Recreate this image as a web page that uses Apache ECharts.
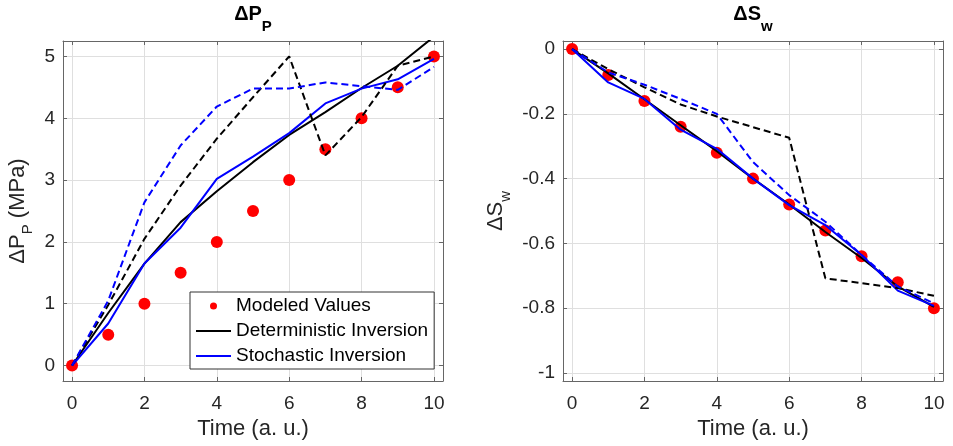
<!DOCTYPE html>
<html>
<head>
<meta charset="utf-8">
<script src="https://cdn.jsdelivr.net/npm/echarts@6/dist/echarts.min.js"></script>
<style>
html,body{margin:0;padding:0;background:#fff;}
#c{width:953px;height:446px;}
</style>
</head>
<body>
<div id="c"></div>
<script>
// ---- data ----
var times = [0, 1, 2, 3, 4, 5, 6, 7, 8, 9, 10];
var xTicks = [0, 2, 4, 6, 8, 10];
var yTicksP = [0, 1, 2, 3, 4, 5];
var yTicksS = [0, -0.2, -0.4, -0.6, -0.8, -1];

// Pressure panel
var pModeled   = [0, 0.5, 1, 1.5, 2, 2.5, 3, 3.5, 4, 4.5, 5];
var pDetSolid  = [0, 0.85, 1.65, 2.32, 2.82, 3.29, 3.73, 4.1, 4.49, 4.85, 5.32];
var pStoSolid  = [0, 0.68, 1.65, 2.23, 3.02, 3.38, 3.76, 4.24, 4.48, 4.63, 4.96];
var pDetDashed = [0, 0.98, 2.05, 2.91, 3.67, 4.34, 5.0, 3.4, 4.02, 4.85, 5.0];
var pStoDashed = [0, 1.05, 2.64, 3.56, 4.19, 4.48, 4.48, 4.58, 4.52, 4.46, 4.83];

// Saturation panel
var sModeled   = [0, -0.08, -0.16, -0.24, -0.32, -0.40, -0.48, -0.56, -0.64, -0.72, -0.80];
var sDetSolid  = [0, -0.075, -0.155, -0.235, -0.315, -0.40, -0.48, -0.565, -0.645, -0.733, -0.796];
var sStoSolid  = [0, -0.103, -0.154, -0.249, -0.308, -0.40, -0.482, -0.544, -0.636, -0.746, -0.793];
var sDetDashed = [0, -0.062, -0.118, -0.171, -0.208, -0.241, -0.274, -0.708, -0.723, -0.738, -0.762];
var sStoDashed = [0, -0.072, -0.11, -0.154, -0.20, -0.349, -0.451, -0.533, -0.636, -0.733, -0.785];

function pairs(ys){ return times.map(function(t,i){ return [t, ys[i]]; }); }

var FONT = 'Liberation Sans, Arial, Helvetica, sans-serif';
var AXC = '#666666';
var GRIDC = '#dfdfdf';
var TXT = '#262626';

function xAx(grid, pos){
  var main = pos === 'bottom';
  return {
    type:'value', gridIndex:grid, position:pos, min:-0.25, max:10.25,
    name: main ? 'Time (a. u.)' : '', nameLocation:'middle', nameGap:37,
    nameTextStyle:{fontFamily:FONT, fontSize:22, color:TXT},
    axisLine:{show:true, onZero:false, lineStyle:{color:AXC, width:1}},
    axisTick:{show:true, inside:true, length:4, customValues:xTicks, lineStyle:{color:AXC}},
    axisLabel:{show:main, customValues:xTicks, margin:13, fontFamily:FONT, fontSize:19, color:TXT},
    splitLine:{show:main, lineStyle:{color:GRIDC, width:1}}
  };
}
function yAx(grid, pos, ticks, mn, mx, name, gap){
  var main = pos === 'left';
  return {
    type:'value', gridIndex:grid, position:pos, min:mn, max:mx,
    name: main ? name : '', nameLocation:'middle', nameGap:gap, nameRotate:90,
    nameTextStyle:{fontFamily:FONT, color:TXT, rich:{
      a:{fontFamily:FONT, fontSize:22, color:TXT, lineHeight:24},
      b:{fontFamily:FONT, fontSize:15, color:TXT, padding:[19,0,0,0]}
    }},
    axisLine:{show:true, onZero:false, lineStyle:{color:AXC, width:1}},
    axisTick:{show:true, inside:true, length:4, customValues:ticks, lineStyle:{color:AXC}},
    axisLabel:{show:main, customValues:ticks, margin:8, fontFamily:FONT, fontSize:19, color:TXT},
    splitLine:{show:main, lineStyle:{color:GRIDC, width:1}}
  };
}

function lineS(name, xi, yi, data, color, dashed){
  return {
    type:'line', name:name, xAxisIndex:xi, yAxisIndex:yi, data:pairs(data),
    symbol:'none', showSymbol:false, clip:true, z:3,
    lineStyle:{color:color, width:2, type: dashed ? [7,4] : 'solid'},
    itemStyle:{color:color}
  };
}
function dotS(name, xi, yi, data){
  return {
    type:'scatter', name:name, xAxisIndex:xi, yAxisIndex:yi, data:pairs(data),
    symbol:'circle', symbolSize:12, z:2, itemStyle:{color:'#ff0000', opacity:1}
  };
}

var titleRich = {
  a:{fontFamily:FONT, fontSize:20, fontWeight:'bold', fill:'#000', lineHeight:22},
  b:{fontFamily:FONT, fontSize:15, fontWeight:'bold', fill:'#000', padding:[26,0,0,0]}
};

var option = {
  animation:false,
  backgroundColor:'#ffffff',
  grid:[
    {left:63, top:41, width:380, height:340, show:false},
    {left:563, top:41, width:380, height:340, show:false}
  ],
  xAxis:[ xAx(0,'bottom'), xAx(0,'top'), xAx(1,'bottom'), xAx(1,'top') ],
  yAxis:[
    yAx(0,'left', yTicksP, -0.25, 5.25, '{a|ΔP}{b|P}{a| (MPa)}', 28),
    yAx(0,'right', yTicksP, -0.25, 5.25, '', 0),
    yAx(1,'left', yTicksS, -1.025, 0.025, '{a|ΔS}{b|w}', 50),
    yAx(1,'right', yTicksS, -1.025, 0.025, '', 0)
  ],
  legend:{
    orient:'vertical', left:190, top:292,
    padding:[4,6,3,5], itemGap:5, itemWidth:35, itemHeight:7,
    borderColor:'#333333', borderWidth:1, backgroundColor:'#ffffff',
    textStyle:{fontFamily:FONT, fontSize:19, color:'#000', lineHeight:20},
    data:[
      {name:'Modeled Values', icon:'circle', itemStyle:{color:'#ff0000', opacity:1}},
      {name:'Deterministic Inversion', itemStyle:{color:'rgba(0,0,0,0)', borderWidth:0, opacity:0}},
      {name:'Stochastic Inversion', itemStyle:{color:'rgba(0,0,0,0)', borderWidth:0, opacity:0}}
    ]
  },
  graphic:[
    {type:'text', x:253, y:14, style:{text:'{a|ΔP}{b|P}', rich:titleRich, align:'center', verticalAlign:'middle'}},
    {type:'text', x:753, y:14, style:{text:'{a|ΔS}{b|w}', rich:titleRich, align:'center', verticalAlign:'middle'}}
  ],
  series:[
    dotS('Modeled Values', 0, 0, pModeled),
    lineS('Deterministic Inversion', 0, 0, pDetSolid, '#000000', false),
    lineS('Stochastic Inversion', 0, 0, pStoSolid, '#0000ff', false),
    lineS('Deterministic Inversion dashed', 0, 0, pDetDashed, '#000000', true),
    lineS('Stochastic Inversion dashed', 0, 0, pStoDashed, '#0000ff', true),
    dotS('Modeled S', 2, 2, sModeled),
    lineS('Deterministic S', 2, 2, sDetSolid, '#000000', false),
    lineS('Stochastic S', 2, 2, sStoSolid, '#0000ff', false),
    lineS('Deterministic S dashed', 2, 2, sDetDashed, '#000000', true),
    lineS('Stochastic S dashed', 2, 2, sStoDashed, '#0000ff', true)
  ]
};

var chart = echarts.init(document.getElementById('c'), null, {renderer:'canvas'});
chart.setOption(option);
</script>
</body>
</html>
